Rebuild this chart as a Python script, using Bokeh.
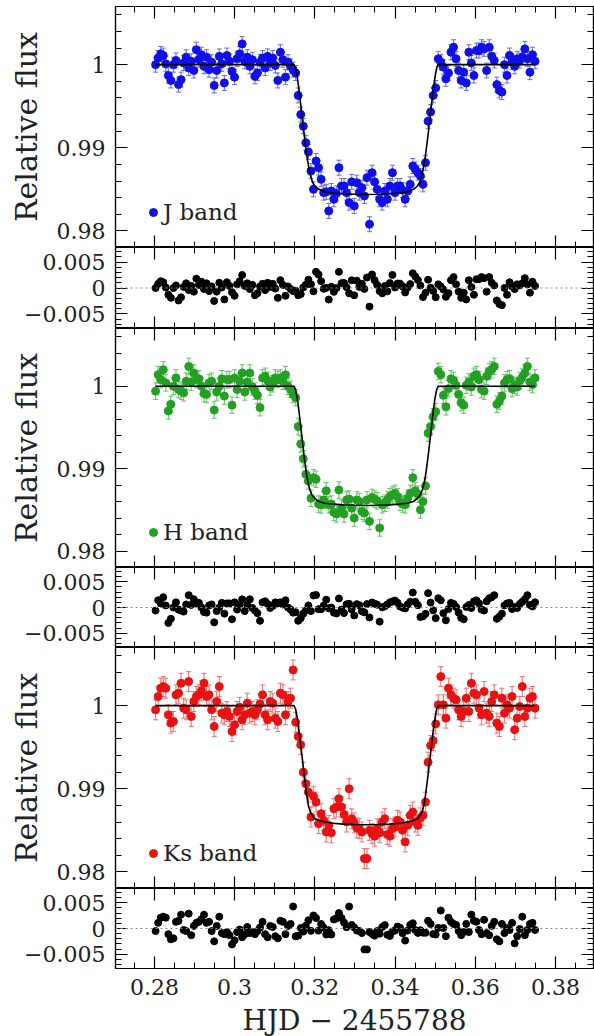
import numpy as np
from bokeh.plotting import figure
from bokeh.layouts import column
from bokeh.models import (Range1d, LinearAxis, SingleIntervalTicker, CustomJSTickFormatter,
                          ColumnDataSource, Whisker, TeeHead, Span, Legend, LegendItem)
from bokeh.embed import file_html
from bokeh.resources import INLINE

# ---------------- data ----------------
time = [
    0.28030, 0.28094, 0.28157, 0.28221, 0.28284, 0.28348, 0.28411, 0.28475, 0.28538, 0.28602,
    0.28665, 0.28729, 0.28792, 0.28856, 0.28919, 0.28983, 0.29046, 0.29110, 0.29173, 0.29237,
    0.29300, 0.29364, 0.29427, 0.29491, 0.29554, 0.29618, 0.29681, 0.29745, 0.29808, 0.29872,
    0.29935, 0.29999, 0.30062, 0.30126, 0.30189, 0.30253, 0.30316, 0.30380, 0.30443, 0.30507,
    0.30570, 0.30634, 0.30697, 0.30761, 0.30824, 0.30888, 0.30951, 0.31015, 0.31078, 0.31142,
    0.31205, 0.31269, 0.31332, 0.31396, 0.31459, 0.31523, 0.31586, 0.31650, 0.31713, 0.31777,
    0.31840, 0.31904, 0.31967, 0.32031, 0.32094, 0.32158, 0.32221, 0.32285, 0.32348, 0.32412,
    0.32475, 0.32539, 0.32602, 0.32666, 0.32729, 0.32793, 0.32856, 0.32920, 0.32983, 0.33047,
    0.33110, 0.33174, 0.33237, 0.33301, 0.33364, 0.33428, 0.33491, 0.33555, 0.33618, 0.33682,
    0.33745, 0.33809, 0.33872, 0.33936, 0.33999, 0.34063, 0.34126, 0.34190, 0.34253, 0.34317,
    0.34380, 0.34444, 0.34507, 0.34571, 0.34634, 0.34698, 0.34761, 0.34825, 0.34888, 0.34952,
    0.35015, 0.35079, 0.35142, 0.35206, 0.35269, 0.35333, 0.35396, 0.35460, 0.35523, 0.35587,
    0.35650, 0.35714, 0.35777, 0.35841, 0.35904, 0.35968, 0.36031, 0.36095, 0.36158, 0.36222,
    0.36285, 0.36349, 0.36412, 0.36476, 0.36539, 0.36603, 0.36666, 0.36730, 0.36793, 0.36857,
    0.36920, 0.36984, 0.37047, 0.37111, 0.37174, 0.37238, 0.37301, 0.37365, 0.37428, 0.37492,
]

j_flux = [
    1.0000, 1.0008, 1.0013, 1.0011, 1.0001, 0.9987, 0.9981, 1.0000, 1.0005, 0.9976,
    0.9982, 1.0002, 1.0009, 0.9996, 1.0004, 0.9993, 1.0018, 1.0006, 1.0012, 0.9998,
    1.0009, 0.9994, 1.0003, 0.9975, 0.9993, 1.0010, 1.0001, 0.9978, 1.0011, 1.0004,
    0.9992, 0.9985, 1.0007, 1.0013, 1.0025, 1.0004, 1.0009, 0.9998, 1.0006, 0.9986,
    0.9990, 1.0003, 1.0008, 0.9996, 1.0010, 1.0002, 1.0008, 0.9999, 0.9981, 1.0015,
    1.0006, 0.9985, 1.0003, 0.9998, 0.9994, 0.9990, 0.9963, 0.9940, 0.9926, 0.9906,
    0.9895, 0.9872, 0.9850, 0.9884, 0.9876, 0.9862, 0.9846, 0.9847, 0.9824, 0.9848,
    0.9838, 0.9845, 0.9876, 0.9854, 0.9854, 0.9846, 0.9834, 0.9859, 0.9830, 0.9858,
    0.9846, 0.9852, 0.9842, 0.9864, 0.9808, 0.9870, 0.9859, 0.9850, 0.9838, 0.9834,
    0.9848, 0.9838, 0.9854, 0.9870, 0.9846, 0.9854, 0.9854, 0.9849, 0.9838, 0.9848,
    0.9856, 0.9878, 0.9874, 0.9870, 0.9866, 0.9856, 0.9882, 0.9932, 0.9943, 0.9963,
    0.9972, 1.0007, 1.0003, 0.9997, 0.9983, 0.9990, 1.0015, 1.0021, 1.0007, 0.9993,
    0.9981, 0.9991, 0.9978, 1.0015, 1.0002, 0.9987, 1.0017, 1.0017, 1.0021, 1.0019,
    0.9993, 1.0021, 1.0010, 1.0005, 0.9976, 0.9969, 0.9967, 1.0000, 0.9987, 1.0011,
    1.0003, 0.9998, 1.0007, 1.0005, 1.0009, 1.0019, 1.0007, 0.9991, 1.0012, 1.0004,
]

h_flux = [
    0.9994, 1.0014, 1.0008, 1.0020, 1.0004, 0.9970, 0.9978, 1.0000, 1.0010, 0.9996,
    0.9994, 0.9992, 1.0006, 1.0024, 1.0005, 1.0016, 1.0008, 1.0009, 1.0000, 0.9991,
    0.9990, 1.0004, 1.0006, 0.9971, 0.9993, 1.0000, 1.0009, 0.9988, 1.0008, 1.0008,
    0.9977, 1.0010, 0.9996, 1.0006, 1.0016, 0.9993, 1.0005, 1.0016, 0.9999, 0.9994,
    0.9989, 0.9974, 1.0010, 1.0012, 1.0007, 0.9999, 1.0003, 1.0010, 1.0008, 1.0010,
    1.0006, 1.0014, 1.0000, 0.9996, 0.9990, 0.9986, 0.9951, 0.9930, 0.9912, 0.9893,
    0.9885, 0.9864, 0.9889, 0.9887, 0.9857, 0.9856, 0.9862, 0.9873, 0.9856, 0.9857,
    0.9847, 0.9845, 0.9874, 0.9852, 0.9845, 0.9862, 0.9863, 0.9852, 0.9840, 0.9862,
    0.9860, 0.9848, 0.9846, 0.9862, 0.9836, 0.9865, 0.9863, 0.9861, 0.9828, 0.9856,
    0.9858, 0.9862, 0.9866, 0.9868, 0.9870, 0.9866, 0.9859, 0.9857, 0.9856, 0.9864,
    0.9870, 0.9889, 0.9873, 0.9869, 0.9850, 0.9860, 0.9879, 0.9943, 0.9951, 0.9963,
    0.9969, 1.0018, 1.0014, 0.9989, 0.9975, 0.9997, 1.0009, 1.0007, 1.0001, 0.9990,
    0.9980, 0.9977, 1.0001, 1.0005, 0.9999, 1.0012, 1.0014, 1.0008, 0.9996, 0.9994,
    1.0012, 1.0018, 1.0020, 1.0024, 0.9978, 0.9982, 0.9988, 1.0004, 1.0008, 1.0009,
    0.9997, 1.0001, 0.9999, 1.0007, 1.0011, 1.0016, 1.0024, 1.0005, 1.0002, 1.0010,
]

ks_flux = [
    0.9995, 1.0011, 1.0021, 1.0023, 1.0021, 0.9989, 0.9979, 0.9981, 1.0013, 1.0015,
    1.0027, 0.9997, 0.9995, 1.0029, 0.9987, 1.0005, 1.0011, 1.0013, 1.0018, 1.0027,
    1.0011, 1.0013, 0.9995, 0.9975, 1.0005, 1.0023, 0.9991, 0.9989, 0.9993, 0.9987,
    0.9969, 0.9977, 0.9993, 0.9998, 0.9983, 0.9989, 1.0003, 0.9991, 0.9993, 0.9989,
    0.9995, 1.0002, 1.0013, 0.9989, 0.9983, 1.0005, 1.0003, 0.9985, 0.9981, 1.0015,
    1.0013, 0.9989, 1.0005, 1.0009, 1.0043, 0.9980, 0.9963, 0.9953, 0.9920, 0.9906,
    0.9896, 0.9866, 0.9891, 0.9884, 0.9858, 0.9870, 0.9862, 0.9848, 0.9856, 0.9847,
    0.9876, 0.9878, 0.9888, 0.9878, 0.9869, 0.9860, 0.9900, 0.9864, 0.9859, 0.9853,
    0.9852, 0.9848, 0.9816, 0.9816, 0.9850, 0.9846, 0.9843, 0.9852, 0.9847, 0.9860,
    0.9864, 0.9845, 0.9843, 0.9852, 0.9854, 0.9862, 0.9860, 0.9850, 0.9836, 0.9856,
    0.9868, 0.9872, 0.9860, 0.9856, 0.9865, 0.9868, 0.9884, 0.9932, 0.9952, 0.9958,
    0.9978, 1.0001, 1.0035, 1.0001, 0.9985, 1.0021, 1.0013, 1.0009, 1.0007, 0.9995,
    0.9987, 0.9993, 1.0009, 0.9993, 1.0027, 1.0015, 1.0013, 0.9997, 0.9989, 1.0017,
    0.9991, 0.9987, 1.0005, 1.0013, 0.9979, 0.9975, 1.0009, 0.9991, 1.0001, 0.9997,
    1.0011, 0.9971, 0.9985, 0.9999, 1.0023, 0.9987, 0.9997, 1.0009, 1.0011, 0.9997,
]

# typical 1-sigma uncertainties of each band
band_err = [0.0009, 0.0010, 0.0012]

# best-fitting transit models
model_time = [
    0.2803, 0.3148, 0.3152, 0.3156, 0.3160, 0.3164, 0.3168, 0.3172, 0.3176, 0.3180,
    0.3184, 0.3188, 0.3192, 0.3196, 0.3200, 0.3210, 0.3225, 0.3245, 0.3270, 0.3300,
    0.3328, 0.3356, 0.3386, 0.3411, 0.3431, 0.3446, 0.3456, 0.3460, 0.3464, 0.3468,
    0.3472, 0.3476, 0.3480, 0.3484, 0.3488, 0.3492, 0.3496, 0.3500, 0.3504, 0.3508,
    0.3748,
]
j_model = [
    1.0, 1.0, 0.9996, 0.9986, 0.9972, 0.9956, 0.9939, 0.9922, 0.9906, 0.9891,
    0.9879, 0.9869, 0.9862, 0.9857, 0.9854, 0.9850, 0.9847, 0.98455, 0.98445, 0.98440,
    0.98438, 0.98440, 0.98445, 0.98455, 0.9847, 0.9850, 0.9854, 0.9857, 0.9862, 0.9869,
    0.9879, 0.9891, 0.9906, 0.9922, 0.9939, 0.9956, 0.9972, 0.9986, 0.9996, 1.0,
    1.0,
]
h_model = [
    1.0, 1.0, 0.9996, 0.9986, 0.9972, 0.9955, 0.9938, 0.9921, 0.9905, 0.9891,
    0.9881, 0.9874, 0.9869, 0.9866, 0.9864, 0.9860, 0.9858, 0.98570, 0.98560, 0.98555,
    0.98553, 0.98555, 0.98560, 0.98570, 0.9858, 0.9860, 0.9864, 0.9866, 0.9869, 0.9874,
    0.9881, 0.9891, 0.9905, 0.9921, 0.9938, 0.9955, 0.9972, 0.9986, 0.9996, 1.0,
    1.0,
]
ks_model = [
    1.0, 1.0, 0.9996, 0.9986, 0.9972, 0.9956, 0.9940, 0.9923, 0.9907, 0.9892,
    0.9880, 0.9873, 0.9869, 0.9866, 0.9864, 0.9862, 0.9860, 0.98585, 0.98575, 0.98570,
    0.98568, 0.98570, 0.98575, 0.98585, 0.9860, 0.9862, 0.9864, 0.9866, 0.9869, 0.9873,
    0.9880, 0.9892, 0.9907, 0.9923, 0.9940, 0.9956, 0.9972, 0.9986, 0.9996, 1.0,
    1.0,
]

band_names = ["J band", "H band", "Ks band"]
band_flux = [j_flux, h_flux, ks_flux]
band_model = [j_model, h_model, ks_model]
point_colors = ["#1010ea", "#22a022", "#e81212"]
bar_colors = ["#6a6af2", "#66c266", "#f27070"]

x_label = "HJD \u2212 2455788"
y_label = "Relative flux"

# ---------------- styling ----------------
FONT = "DejaVu Serif"
TXT = "#222222"
x_range = Range1d(0.2703, 0.3895)

flux_fmt = CustomJSTickFormatter(code=r"return tick.toFixed(2).replace(/0+$/,'').replace(/\.$/,'');")
res_fmt = CustomJSTickFormatter(code=r"var s = tick.toFixed(3).replace(/0+$/,'').replace(/\.$/,''); if (s == '-0') { s = '0'; } return s.replace('-', '" + "\u2212" + "');")
x_fmt = CustomJSTickFormatter(code=r"return tick.toFixed(2).replace(/0+$/,'').replace(/\.$/,'');")


def blank():
    return CustomJSTickFormatter(code="return '';")


def style_axis(ax, labels, major=12, minor=6):
    ax.major_tick_in = major
    ax.major_tick_out = 0
    ax.minor_tick_in = minor
    ax.minor_tick_out = 0
    ax.axis_line_color = "black"
    ax.major_tick_line_color = "black"
    ax.minor_tick_line_color = "black"
    ax.axis_line_width = 1.2
    ax.major_tick_line_width = 1.2
    ax.minor_tick_line_width = 1.0
    ax.major_label_text_font = FONT
    ax.major_label_text_font_size = "22px"
    ax.major_label_text_color = TXT
    if not labels:
        ax.formatter = blank()
        ax.major_label_text_font_size = "0px"
        ax.major_label_standoff = 0


def make_fig(height, yr, yticker, yfmt, top=0, bottom=0, xlabels=False, ylabel=None):
    p = figure(frame_width=478, frame_height=height, x_range=x_range, y_range=yr,
               output_backend="svg", toolbar_location=None,
               x_axis_type=None, y_axis_type=None,
               min_border_left=115, min_border_right=1,
               min_border_top=top, min_border_bottom=bottom)
    p.outline_line_color = "black"
    p.outline_line_width = 1.2
    p.background_fill_color = "white"
    p.border_fill_color = "white"

    xt = SingleIntervalTicker(interval=0.02, num_minor_ticks=4)
    left = LinearAxis(ticker=yticker, formatter=yfmt)
    style_axis(left, True)
    left.major_label_standoff = 10
    if ylabel:
        left.axis_label = ylabel
        left.axis_label_text_font = FONT
        left.axis_label_text_font_size = "30px"
        left.axis_label_text_font_style = "normal"
        left.axis_label_text_color = TXT
        left.axis_label_standoff = 10
    right = LinearAxis(ticker=yticker)
    style_axis(right, False)
    above = LinearAxis(ticker=xt)
    style_axis(above, False)
    below = LinearAxis(ticker=xt, formatter=x_fmt)
    style_axis(below, xlabels)
    if xlabels:
        below.major_label_standoff = 10
        below.axis_label = x_label
        below.axis_label_text_font = FONT
        below.axis_label_text_font_size = "28px"
        below.axis_label_text_font_style = "normal"
        below.axis_label_text_color = TXT
        below.axis_label_standoff = 6
    p.add_layout(left, "left")
    p.add_layout(right, "right")
    p.add_layout(above, "above")
    p.add_layout(below, "below")
    return p


flux_heights = [241, 239, 241]
res_heights = [81, 80, 80]
tm = np.array(time)
figs = []
for k in range(3):
    fl = np.array(band_flux[k])
    err = band_err[k]
    mod_at_t = np.interp(tm, model_time, band_model[k])
    src = ColumnDataSource(dict(t=tm, f=fl, lo=fl - err, hi=fl + err, r=fl - mod_at_t))

    pf = make_fig(flux_heights[k], Range1d(0.9780, 1.0070),
                  SingleIntervalTicker(interval=0.01, num_minor_ticks=5), flux_fmt,
                  top=6 if k == 0 else 0, ylabel=y_label)
    wh = Whisker(source=src, base="t", lower="lo", upper="hi",
                 line_color=bar_colors[k], line_width=1.2, line_alpha=0.9,
                 lower_head=TeeHead(size=5, line_color=bar_colors[k], line_width=1),
                 upper_head=TeeHead(size=5, line_color=bar_colors[k], line_width=1))
    pf.add_layout(wh)
    pts = pf.scatter("t", "f", source=src, size=8, color=point_colors[k], line_color=point_colors[k])
    pf.line(model_time, band_model[k], line_color="black", line_width=1.6)
    leg = Legend(items=[LegendItem(label=band_names[k], renderers=[pts])],
                 location=(28, 22), orientation="vertical",
                 border_line_color=None, background_fill_alpha=0,
                 padding=0, margin=0, spacing=0,
                 glyph_width=20, glyph_height=20, label_standoff=0,
                 label_text_font=FONT, label_text_font_size="23px",
                 label_text_color=TXT, label_height=20)
    pf.add_layout(leg)
    figs.append(pf)

    pr = make_fig(res_heights[k], Range1d(-0.0078, 0.0078),
                  SingleIntervalTicker(interval=0.005, num_minor_ticks=5), res_fmt,
                  xlabels=(k == 2))
    pr.add_layout(Span(location=0, dimension="width", line_color="#888888",
                       line_dash="2 3", line_width=1.2))
    pr.scatter("t", "r", source=src, size=7, color="black")
    figs.append(pr)

layout = column(*figs, spacing=0)
open("out.html", "w").write(file_html(layout, INLINE))
